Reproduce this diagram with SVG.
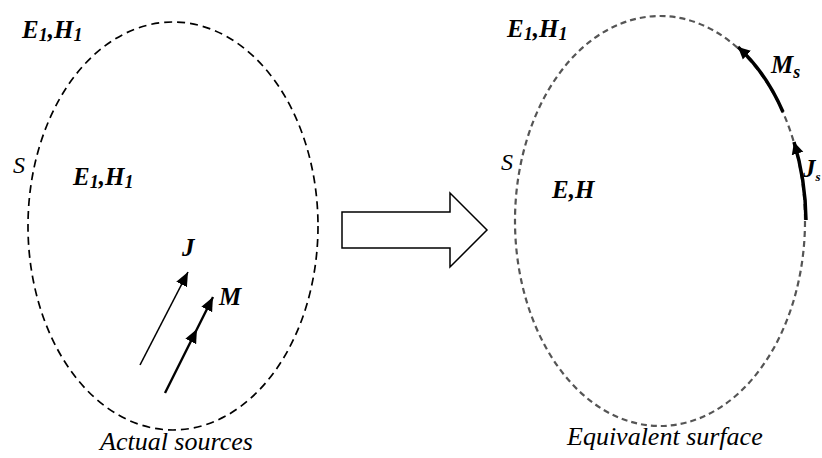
<svg xmlns="http://www.w3.org/2000/svg" width="822" height="458" viewBox="0 0 822 458">
<style>
text{font-family:"Liberation Serif","Times New Roman",serif;font-style:italic;font-size:24px;fill:#000}
.b{font-weight:bold;font-size:25px}
.cap{font-size:26px}
.sub{font-size:18px}
.tiny{font-size:13px}
.surf1{fill:none;stroke:#000;stroke-width:1.7;stroke-dasharray:8 5}
.surf2{fill:none;stroke:#555;stroke-width:2.2;stroke-dasharray:6 4}
.src{fill:none;stroke:#000}
</style>
<defs>
<marker id="ah" markerUnits="userSpaceOnUse" markerWidth="16" markerHeight="14" refX="14" refY="6" orient="auto" viewBox="0 0 16 12">
<path d="M0,0 L14,6 L0,12 Z" fill="#000"/>
</marker>
<marker id="ahs" markerUnits="userSpaceOnUse" markerWidth="14" markerHeight="14" refX="12" refY="6" orient="auto" viewBox="0 0 14 12">
<path d="M0,0 L12,6 L0,12 Z" fill="#000"/>
</marker>
</defs>
<g id="actual-region">
<ellipse class="surf1" cx="173" cy="226" rx="145" ry="204"/>
<text class="b" x="22" y="38">E<tspan class="sub" dy="3">1</tspan><tspan dy="-3">,H</tspan><tspan class="sub" dy="3">1</tspan></text>
<text x="13" y="173">S</text>
<text class="b" x="73" y="185">E<tspan class="sub" dy="3">1</tspan><tspan dy="-3">,H</tspan><tspan class="sub" dy="3">1</tspan></text>
<text class="b" x="182" y="256">J</text>
<text class="b" x="219" y="305">M</text>
<text class="cap" x="100" y="450">Actual sources</text>
</g>
<g id="equivalent-region">
<ellipse class="surf2" cx="660" cy="221" rx="145" ry="205"/>
<text class="b" x="507" y="37">E<tspan class="sub" dy="3">1</tspan><tspan dy="-3">,H</tspan><tspan class="sub" dy="3">1</tspan></text>
<text x="501" y="170">S</text>
<text class="b" x="552" y="198">E,H</text>
<text class="b" x="771" y="73">M<tspan class="sub" dy="5">s</tspan></text>
<text class="b" x="803" y="177">J<tspan class="tiny" dy="4">s</tspan></text>
<text class="cap" x="567" y="445">Equivalent surface</text>
</g>
<g id="transform-arrow">
<polygon points="342,212 450,212 450,193 487,230 450,267 450,248 342,248" fill="#fff" stroke="#000" stroke-width="1.5"/>
</g>
<g id="connectors">
<line class="src" x1="140" y1="365" x2="188" y2="272" stroke-width="1.6" marker-end="url(#ah)"/>
<path class="src" d="M165,393 L197,329 L213,297" stroke-width="2.4" marker-mid="url(#ah)" marker-end="url(#ah)"/>
<path class="src" d="M783,112 A145,205 0 0 0 738,47" stroke-width="3.5" marker-end="url(#ahs)"/>
<path class="src" d="M806,220 A145,205 0 0 0 794,142" stroke-width="3.5" marker-end="url(#ahs)"/>
</g>
</svg>
